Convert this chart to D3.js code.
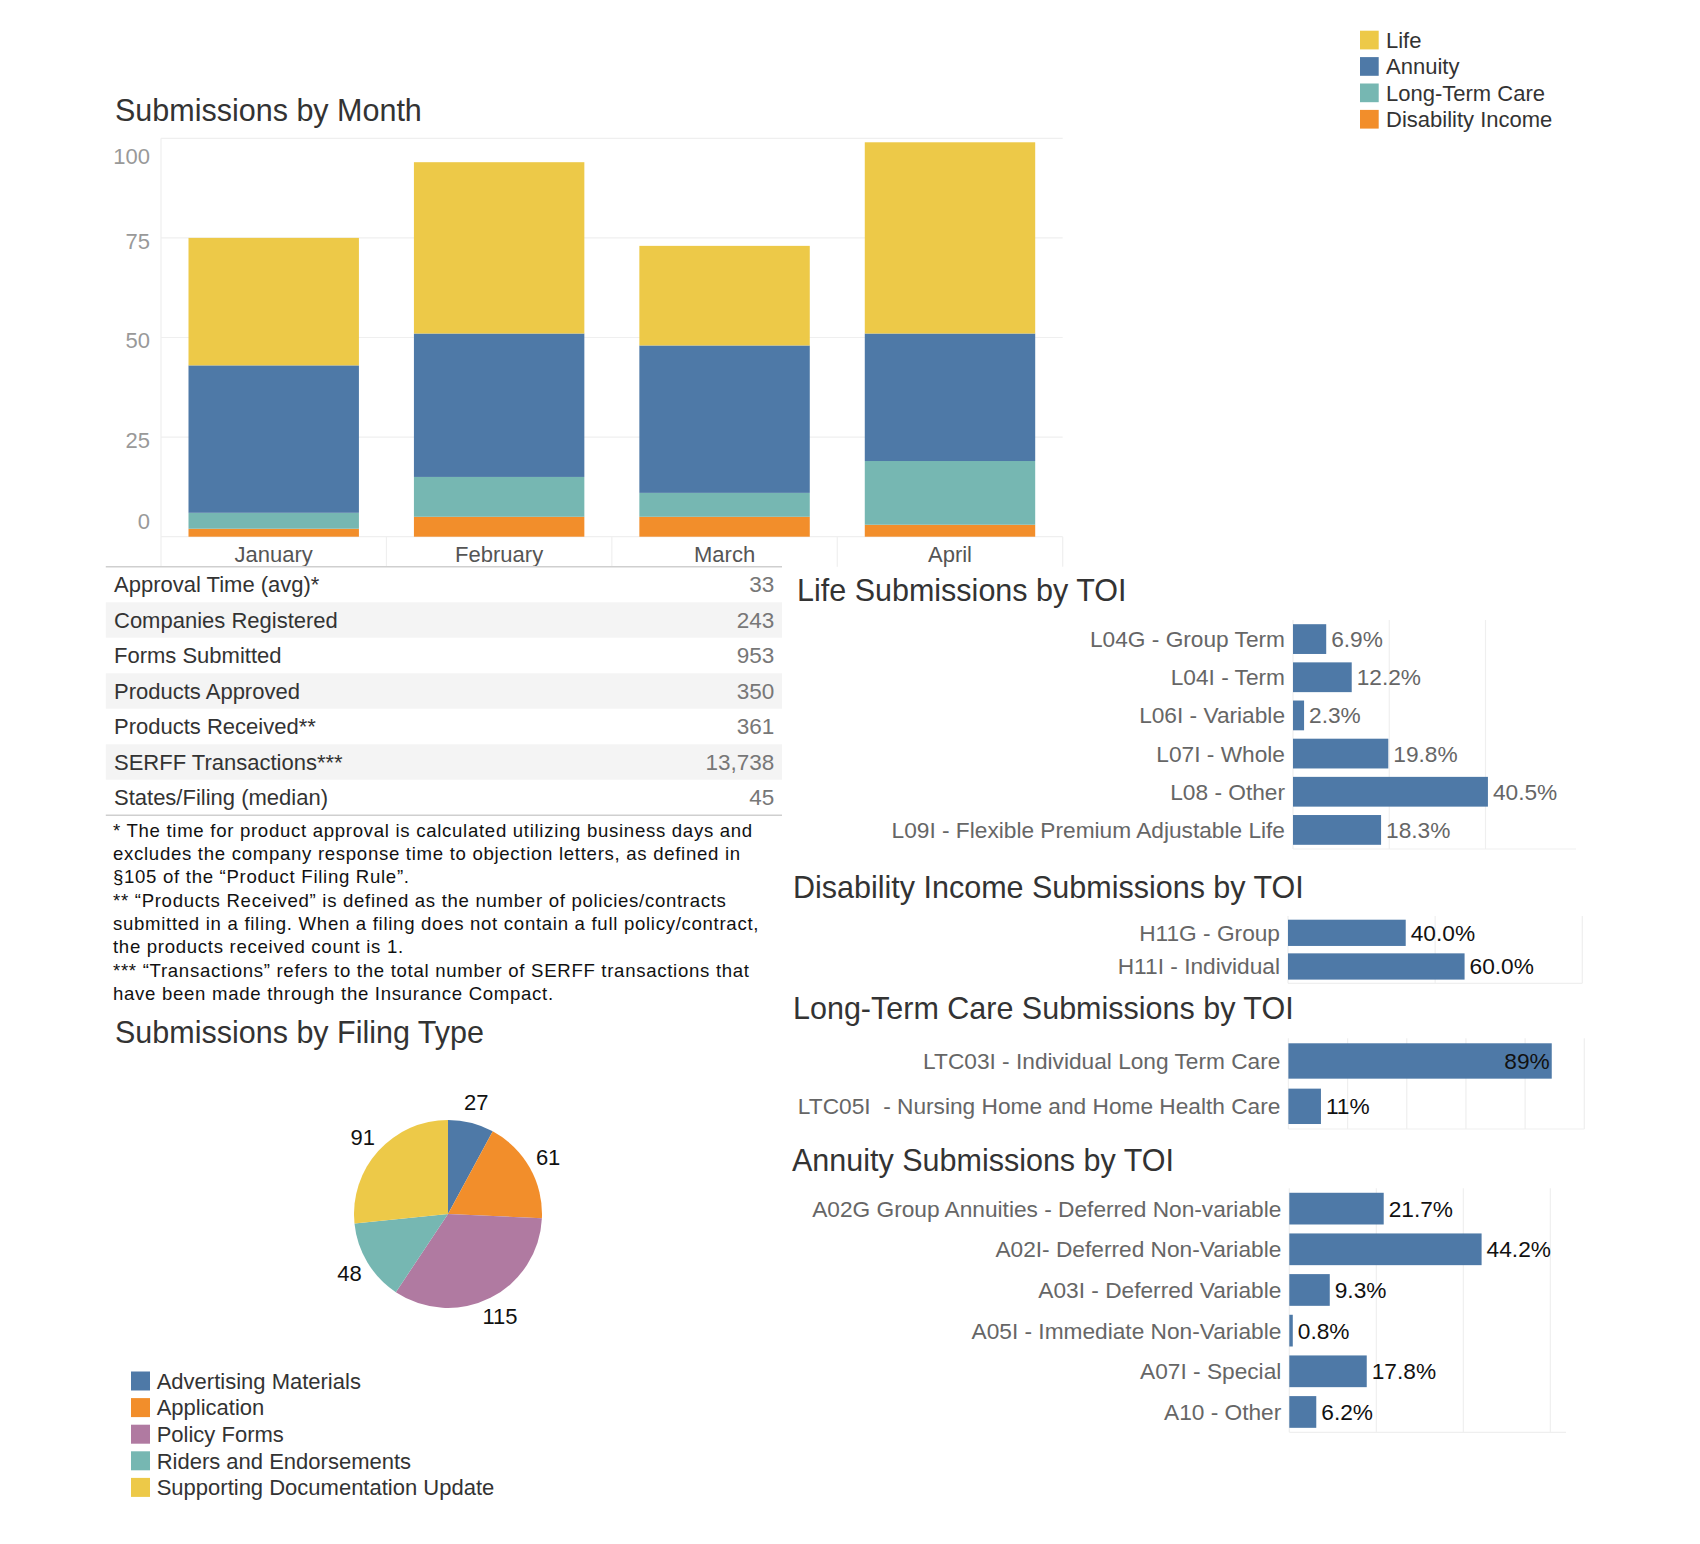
<!DOCTYPE html>
<html>
<head>
<meta charset="utf-8">
<script src="https://cdnjs.cloudflare.com/ajax/libs/d3/7.8.5/d3.min.js"></script>
<style>
  html, body { margin: 0; padding: 0; background: #fff; }
  svg text { font-family: "Liberation Sans", Arial, sans-serif; }
</style>
</head>
<body>
<div id="dash"></div>
<script>
// ---- data ----
const months = ["January", "February", "March", "April"];
const lineNames = ["Life", "Annuity", "Long-Term Care", "Disability Income"];
const lifeByMonth = [32, 43, 25, 48];
const annuityByMonth = [37, 36, 37, 32];
const ltcByMonth = [4, 10, 6, 16];
const disabilityByMonth = [2, 5, 5, 3];
const monthTicks = [0, 25, 50, 75, 100];

const statLabels = ["Approval Time (avg)*", "Companies Registered", "Forms Submitted",
  "Products Approved", "Products Received**", "SERFF Transactions***", "States/Filing (median)"];
const statValues = ["33", "243", "953", "350", "361", "13,738", "45"];

const footnotes = [
  "* The time for product approval is calculated utilizing business days and",
  "excludes the company response time to objection letters, as defined in",
  "\u00a7105 of the \u201cProduct Filing Rule\u201d.",
  "** \u201cProducts Received\u201d is defined as the number of policies/contracts",
  "submitted in a filing. When a filing does not contain a full policy/contract,",
  "the products received count is 1.",
  "*** \u201cTransactions\u201d refers to the total number of SERFF transactions that",
  "have been made through the Insurance Compact."
];

const filingTypes = ["Advertising Materials", "Application", "Policy Forms",
  "Riders and Endorsements", "Supporting Documentation Update"];
const filingCounts = [27, 61, 115, 48, 91];

const lifeToi = ["L04G - Group Term", "L04I - Term", "L06I - Variable", "L07I - Whole",
  "L08 - Other", "L09I - Flexible Premium Adjustable Life"];
const lifePct = [6.9, 12.2, 2.3, 19.8, 40.5, 18.3];
const diToi = ["H11G - Group", "H11I - Individual"];
const diPct = [40.0, 60.0];
const ltcToi = ["LTC03I - Individual Long Term Care", "LTC05I  - Nursing Home and Home Health Care"];
const ltcPct = [89, 11];
const annuityToi = ["A02G Group Annuities - Deferred Non-variable", "A02I- Deferred Non-Variable",
  "A03I - Deferred Variable", "A05I - Immediate Non-Variable", "A07I - Special", "A10 - Other"];
const annuityPct = [21.7, 44.2, 9.3, 0.8, 17.8, 6.2];

// ---- look ----
const colors = {
  "Life": "#EDC948", "Annuity": "#4E79A7", "Long-Term Care": "#76B7B2", "Disability Income": "#F28E2B"
};
const pieColors = ["#4E79A7", "#F28E2B", "#B07AA1", "#76B7B2", "#EDC948"];
const grid = "#efefef";
const W = 1700, H = 1544;

const svg = d3.select("#dash").append("svg")
  .attr("width", W).attr("height", H)
  .attr("viewBox", `0 0 ${W} ${H}`);

function title(txt, x, y) {
  svg.append("text").attr("x", x).attr("y", y)
    .attr("font-size", 30.5).attr("fill", "#333").text(txt);
}

// ---- top legend ----
const topLegend = svg.append("g");
lineNames.forEach((n, i) => {
  const cy = 40 + i * 26.4;
  topLegend.append("rect").attr("x", 1360).attr("y", cy - 9.3)
    .attr("width", 18.7).attr("height", 18.7).attr("fill", colors[n]);
  topLegend.append("text").attr("x", 1386).attr("y", cy).attr("dy", "0.35em")
    .attr("font-size", 22).attr("fill", "#333").text(n);
});

// ---- submissions by month ----
title("Submissions by Month", 115, 121);

const x = d3.scaleBand().domain(months).range([161, 1062.7])
  .paddingInner(0.244).paddingOuter(0.122);
const y = d3.scaleLinear().domain([0, 100]).range([536.7, 138.3]);

const monthRows = months.map((m, i) => ({
  month: m,
  "Life": lifeByMonth[i],
  "Annuity": annuityByMonth[i],
  "Long-Term Care": ltcByMonth[i],
  "Disability Income": disabilityByMonth[i]
}));
const stack = d3.stack().keys(["Disability Income", "Long-Term Care", "Annuity", "Life"]);
const layers = stack(monthRows);

const bc = svg.append("g");
bc.append("g").selectAll("line").data(monthTicks).join("line")
  .attr("x1", 161).attr("x2", 1062.7)
  .attr("y1", d => y(d)).attr("y2", d => y(d))
  .attr("stroke", grid).attr("stroke-width", 1.2);
bc.append("line").attr("x1", 161).attr("x2", 161)
  .attr("y1", y(100)).attr("y2", 566.7).attr("stroke", grid).attr("stroke-width", 1.2);
// band separators under the axis
bc.append("g").selectAll("line").data(months.slice(1).concat(["end"])).join("line")
  .attr("x1", d => d === "end" ? 1062.7 : x(d) - x.step() * x.paddingInner() / 2)
  .attr("x2", d => d === "end" ? 1062.7 : x(d) - x.step() * x.paddingInner() / 2)
  .attr("y1", y(0)).attr("y2", 566.7).attr("stroke", grid).attr("stroke-width", 1.2);

bc.append("g").selectAll("g").data(layers).join("g")
  .attr("fill", d => colors[d.key])
  .selectAll("rect").data(d => d).join("rect")
  .attr("x", d => x(d.data.month))
  .attr("width", x.bandwidth())
  .attr("y", d => y(d[1]))
  .attr("height", d => y(d[0]) - y(d[1]));

// y labels: Tableau nudges the end labels inwards
bc.append("g").selectAll("text").data(monthTicks).join("text")
  .attr("x", 150).attr("text-anchor", "end")
  .attr("y", d => y(d) + (d === 100 ? 18 : d === 0 ? -15 : 3))
  .attr("dy", "0.35em").attr("font-size", 22).attr("fill", "#999")
  .text(d => d);

bc.append("g").selectAll("text").data(months).join("text")
  .attr("x", d => x(d) + x.bandwidth() / 2).attr("y", 561.7)
  .attr("text-anchor", "middle").attr("font-size", 22).attr("fill", "#555")
  .text(d => d);

// ---- stats table ----
const rowH = 35.5, tTop = 566.8;
const tbl = svg.append("g");
tbl.selectAll("rect").data(statLabels).join("rect")
  .attr("x", 105.8).attr("width", 782 - 105.8)
  .attr("y", (d, i) => tTop + i * rowH).attr("height", rowH)
  .attr("fill", (d, i) => i % 2 ? "#f4f4f4" : "#fff");
tbl.append("line").attr("x1", 105.8).attr("x2", 782).attr("y1", tTop).attr("y2", tTop)
  .attr("stroke", "#cfcfcf").attr("stroke-width", 1.5);
tbl.append("line").attr("x1", 105.8).attr("x2", 782)
  .attr("y1", tTop + 7 * rowH).attr("y2", tTop + 7 * rowH)
  .attr("stroke", "#cfcfcf").attr("stroke-width", 1.5);
tbl.selectAll("text.l").data(statLabels).join("text").attr("class", "l")
  .attr("x", 114).attr("y", (d, i) => tTop + i * rowH + rowH / 2).attr("dy", "0.35em")
  .attr("font-size", 22).attr("fill", "#333").text(d => d);
tbl.selectAll("text.v").data(statValues).join("text").attr("class", "v")
  .attr("x", 774.3).attr("text-anchor", "end")
  .attr("y", (d, i) => tTop + i * rowH + rowH / 2).attr("dy", "0.35em")
  .attr("font-size", 22.5).attr("fill", "#777").text(d => d);

// ---- footnotes ----
svg.append("g").selectAll("text").data(footnotes).join("text")
  .attr("x", 113).attr("y", (d, i) => 836.7 + i * 23.33)
  .attr("font-size", 18.6).attr("letter-spacing", 0.7)
  .attr("fill", "#111").text(d => d);

// ---- pie ----
title("Submissions by Filing Type", 115, 1042.7);
const pie = d3.pie().sort(null).value(d => d)(filingCounts);
const arc = d3.arc().innerRadius(0).outerRadius(94);
const labelArc = d3.arc().innerRadius(115).outerRadius(115);
const pg = svg.append("g").attr("transform", "translate(448,1214)");
pg.selectAll("path").data(pie).join("path")
  .attr("d", arc).attr("fill", (d, i) => pieColors[i]);
pg.selectAll("text").data(pie).join("text")
  .attr("transform", d => `translate(${labelArc.centroid(d)})`)
  .attr("text-anchor", "middle").attr("dy", "0.35em")
  .attr("font-size", 22).attr("fill", "#111").text(d => d.data);

const pl = svg.append("g");
filingTypes.forEach((n, i) => {
  const cy = 1381 + i * 26.6;
  pl.append("rect").attr("x", 131).attr("y", cy - 9.5)
    .attr("width", 19).attr("height", 19).attr("fill", pieColors[i]);
  pl.append("text").attr("x", 156.7).attr("y", cy).attr("dy", "0.35em")
    .attr("font-size", 22).attr("fill", "#333").text(n);
});

// ---- TOI bar charts ----
function toiChart(cfg) {
  title(cfg.title, cfg.titleX, cfg.titleY);
  const g = svg.append("g");
  const xs = d3.scaleLinear().domain([0, cfg.max]).range([cfg.x0, cfg.x1]);
  const ys = d3.scaleBand().domain(cfg.labels).range([cfg.top, cfg.bottom])
    .paddingInner(0.22).paddingOuter(0.11);
  g.selectAll("line.g").data([0].concat(cfg.ticks)).join("line").attr("class", "g")
    .attr("x1", d => xs(d)).attr("x2", d => xs(d))
    .attr("y1", cfg.top).attr("y2", cfg.bottom)
    .attr("stroke", grid).attr("stroke-width", 1.2);
  g.append("line").attr("x1", cfg.x0).attr("x2", cfg.x1)
    .attr("y1", cfg.bottom).attr("y2", cfg.bottom)
    .attr("stroke", grid).attr("stroke-width", 1.2);
  const rows = cfg.labels.map((l, i) => ({ label: l, value: cfg.values[i] }));
  g.selectAll("rect").data(rows).join("rect")
    .attr("x", cfg.x0).attr("y", d => ys(d.label))
    .attr("width", d => xs(d.value) - cfg.x0).attr("height", ys.bandwidth())
    .attr("fill", "#4E79A7");
  g.selectAll("text.l").data(rows).join("text").attr("class", "l")
    .attr("x", cfg.x0 - 8).attr("text-anchor", "end")
    .attr("y", d => ys(d.label) + ys.bandwidth() / 2).attr("dy", "0.35em")
    .attr("font-size", 22.7).attr("fill", "#666").style("white-space", "pre")
    .text(d => d.label);
  g.selectAll("text.v").data(rows).join("text").attr("class", "v")
    .each(function (d) {
      const inside = xs(d.value) + 45 > cfg.x1;
      d3.select(this)
        .attr("x", inside ? xs(d.value) - 2 : xs(d.value) + 5)
        .attr("text-anchor", inside ? "end" : "start");
    })
    .attr("y", d => ys(d.label) + ys.bandwidth() / 2).attr("dy", "0.35em")
    .attr("font-size", 22.7).attr("fill", cfg.valueColor)
    .text(d => cfg.fmt(d.value));
}

toiChart({
  title: "Life Submissions by TOI", titleX: 797, titleY: 601,
  labels: lifeToi, values: lifePct, x0: 1293, x1: 1576, max: 58.8,
  top: 620, bottom: 849, ticks: [20, 40], valueColor: "#666",
  fmt: d => d.toFixed(1) + "%"
});
toiChart({
  title: "Disability Income Submissions by TOI", titleX: 793, titleY: 898,
  labels: diToi, values: diPct, x0: 1288, x1: 1582.3, max: 100,
  top: 916, bottom: 983.3, ticks: [50, 100], valueColor: "#111",
  fmt: d => d.toFixed(1) + "%"
});
toiChart({
  title: "Long-Term Care Submissions by TOI", titleX: 793, titleY: 1019,
  labels: ltcToi, values: ltcPct, x0: 1288.4, x1: 1584.3, max: 100,
  top: 1038.3, bottom: 1129, ticks: [20, 40, 60, 80, 100], valueColor: "#111",
  fmt: d => d.toFixed(0) + "%"
});
toiChart({
  title: "Annuity Submissions by TOI", titleX: 792, titleY: 1170.5,
  labels: annuityToi, values: annuityPct, x0: 1289.3, x1: 1566, max: 63.6,
  top: 1188.3, bottom: 1432.3, ticks: [20, 40, 60], valueColor: "#111",
  fmt: d => d.toFixed(1) + "%"
});
</script>
</body>
</html>
